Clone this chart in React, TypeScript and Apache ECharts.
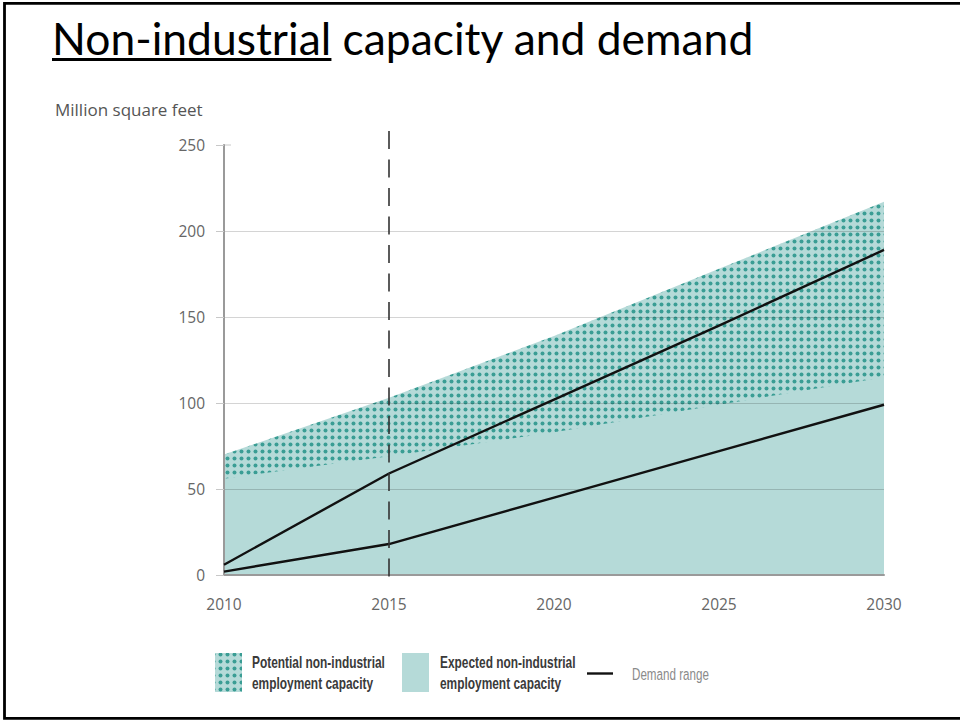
import React, { useEffect, useRef } from "react";
import * as echarts from "echarts";

// Floor space, million square feet, by year
const years = [2010, 2015, 2020, 2025, 2030];
const potentialCapacity = [70, 103, 139, 178, 217];
const expectedCapacity = [56, 69, 83, 99, 115];
const demandHigh = [6, 59, 102, 145, 189];
const demandLow = [2, 18, 45, 72, 99];
const yTicks = [0, 50, 100, 150, 200, 250];
const markerYear = 2015;

const titleMain = "Non-industrial";
const titleRest = " capacity and demand";
const unitLabel = "Million square feet";
const legendPotential = ["Potential non-industrial", "employment capacity"];
const legendExpected = ["Expected non-industrial", "employment capacity"];
const legendDemand = "Demand range";

const TEAL_LIGHT = "#b5dad8";
const TEAL_DOT = "#3a9d94";
const AXIS_GREY = "#9a9a9a";
const LABEL_GREY = "#666";
const LABEL_FONT = "'Open Sans', sans-serif";

function dotPattern() {
  const size = 7;
  const c = document.createElement("canvas");
  c.width = size;
  c.height = size;
  const ctx = c.getContext("2d")!;
  ctx.fillStyle = TEAL_LIGHT;
  ctx.fillRect(0, 0, size, size);
  ctx.fillStyle = TEAL_DOT;
  ctx.beginPath();
  ctx.arc(size / 2, size / 2, 2, 0, Math.PI * 2);
  ctx.fill();
  return { image: c, repeat: "repeat", imageWidth: size, imageHeight: size };
}

function measure(text: string, font: string) {
  const ctx = document.createElement("canvas").getContext("2d")!;
  ctx.font = font;
  return ctx.measureText(text).width;
}

const pairs = (vals: number[]) => years.map((y, i) => [y, vals[i]]);

export default function App() {
  const ref = useRef<HTMLDivElement>(null);

  useEffect(() => {
    if (!ref.current) return;
    const chart = echarts.init(ref.current, null, { renderer: "svg" });
    const pattern = dotPattern();

    const areaSeries = (name: string, vals: number[], fill: any) => ({
      name,
      type: "line",
      data: pairs(vals),
      symbol: "none",
      lineStyle: { width: 0 },
      areaStyle: { color: fill, opacity: 1 },
      z: 1,
      silent: true,
    });
    const demandSeries = (name: string, vals: number[]) => ({
      name,
      type: "line",
      data: pairs(vals),
      symbol: "none",
      lineStyle: { color: "#111", width: 2.4 },
      z: 6,
      silent: true,
    });

    chart.setOption({
      animation: false,
      backgroundColor: "#fff",
      grid: { left: 224, right: 76, top: 145, bottom: 146 },
      xAxis: {
        type: "value",
        min: years[0],
        max: years[years.length - 1],
        interval: 5,
        z: 3,
        axisLine: { show: true, lineStyle: { color: AXIS_GREY, width: 2 } },
        axisTick: { show: false },
        splitLine: { show: false },
        axisLabel: {
          color: LABEL_GREY,
          fontFamily: LABEL_FONT,
          fontSize: 15.5,
          margin: 21,
          formatter: (v: number) => String(v),
        },
      },
      yAxis: {
        type: "value",
        min: yTicks[0],
        max: yTicks[yTicks.length - 1],
        interval: yTicks[1] - yTicks[0],
        z: 3,
        axisLine: { show: true, lineStyle: { color: AXIS_GREY, width: 2 } },
        axisTick: { show: true, length: 8, lineStyle: { color: "#c8c8c8" } },
        splitLine: {
          show: true,
          showMaxLine: false,
          lineStyle: { color: "rgba(0,0,0,0.17)", width: 1 },
        },
        axisLabel: {
          color: LABEL_GREY,
          fontFamily: LABEL_FONT,
          fontSize: 15.5,
          margin: 19,
        },
      },
      series: [
        areaSeries("Potential non-industrial employment capacity", potentialCapacity, pattern),
        areaSeries("Expected non-industrial employment capacity", expectedCapacity, TEAL_LIGHT),
        demandSeries("Demand range (high)", demandHigh),
        demandSeries("Demand range (low)", demandLow),
      ],
    });

    const markerX = chart.convertToPixel({ xAxisIndex: 0 }, markerYear) as number;
    const topTickY = chart.convertToPixel({ yAxisIndex: 0 }, yTicks[yTicks.length - 1]) as number;
    const axisX = chart.convertToPixel({ xAxisIndex: 0 }, years[0]) as number;

    const titleFont = "45px Lato";
    const titleScale = 703 / measure(titleMain + titleRest, titleFont);
    const underlineW = measure(titleMain, titleFont) * titleScale;

    const legendFamily = "'Liberation Sans', Arial, sans-serif";
    const legendSize = 16.5;
    const legendScale = 133 / measure(legendPotential[0], `bold ${legendSize}px 'Liberation Sans'`);
    const demandScale = 77 / measure(legendDemand, `${legendSize}px 'Liberation Sans'`);

    const legendText = (x: number, y: number, text: string, scale: number, color: string, bold: boolean) => ({
      type: "text",
      x,
      y,
      scaleX: scale,
      style: {
        text,
        fill: color,
        fontSize: legendSize,
        fontFamily: legendFamily,
        fontWeight: bold ? "bold" : "normal",
        verticalAlign: "middle",
        align: "left",
      },
    });

    chart.setOption({
      graphic: [
        {
          type: "rect",
          shape: { x: 4.5, y: 3.3, width: 1200, height: 715 },
          style: { fill: "none", stroke: "#000", lineWidth: 2.8 },
          z: 10,
        },
        {
          type: "text",
          x: 52,
          y: 38,
          scaleX: titleScale,
          style: { text: titleMain + titleRest, fill: "#000", font: titleFont, verticalAlign: "middle" },
        },
        {
          type: "line",
          shape: { x1: 52, y1: 59.5, x2: 52 + underlineW, y2: 59.5 },
          style: { stroke: "#000", lineWidth: 3 },
        },
        {
          type: "text",
          x: 55,
          y: 109,
          style: { text: unitLabel, fill: "#555", fontSize: 17, fontFamily: LABEL_FONT, verticalAlign: "middle" },
        },
        {
          // right half of the top tick on the value axis
          type: "line",
          shape: { x1: axisX, y1: topTickY, x2: axisX + 7, y2: topTickY },
          style: { stroke: "#c8c8c8", lineWidth: 1 },
        },
        {
          type: "line",
          z: 20,
          shape: { x1: markerX, y1: 131, x2: markerX, y2: 583 },
          style: { stroke: "#333", lineWidth: 1.6, lineDash: [18, 10.5] },
        },
        // legend
        {
          type: "rect",
          shape: { x: 215, y: 653, width: 27, height: 39 },
          style: { fill: pattern },
        },
        legendText(252, 662, legendPotential[0], legendScale, "#3a3a3a", true),
        legendText(252, 683, legendPotential[1], legendScale, "#3a3a3a", true),
        {
          type: "rect",
          shape: { x: 402, y: 653, width: 27, height: 39 },
          style: { fill: TEAL_LIGHT },
        },
        legendText(440, 662, legendExpected[0], legendScale, "#3a3a3a", true),
        legendText(440, 683, legendExpected[1], legendScale, "#3a3a3a", true),
        {
          type: "line",
          shape: { x1: 587, y1: 673.5, x2: 613, y2: 673.5 },
          style: { stroke: "#111", lineWidth: 2.4 },
        },
        legendText(632, 674, legendDemand, demandScale, "#8a8a8a", false),
      ],
    });

    return () => chart.dispose();
  }, []);

  return (
    <div
      ref={ref}
      style={{ position: "absolute", left: 0, top: 0, width: 960, height: 721 }}
    />
  );
}
